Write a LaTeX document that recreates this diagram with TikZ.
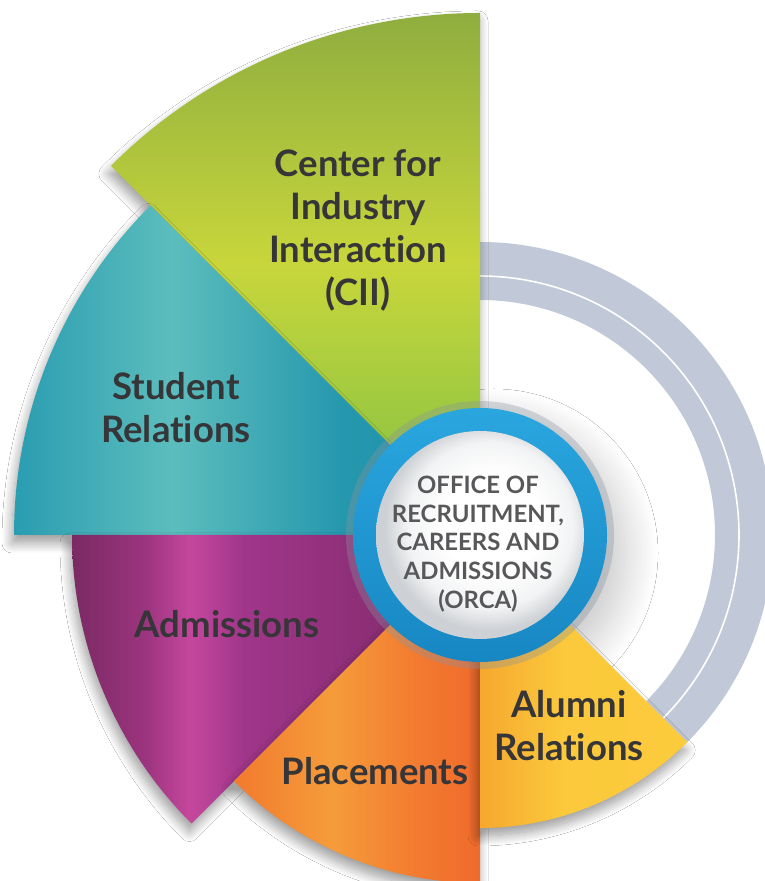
\documentclass[tikz,border=0pt]{standalone}
\usepackage{fontspec}
\setmainfont{Lato}[RawFeature={-liga;-clig;-dlig}]
\usetikzlibrary{shadows.blur,calc}
\definecolor{txtdark}{HTML}{363538}
\definecolor{txtgrey}{HTML}{58585A}
\definecolor{ringgrey}{HTML}{C1C9D8}
\definecolor{rimgrey}{HTML}{8A939E}
\definecolor{greenA}{HTML}{7CBF44}
\definecolor{greenB}{HTML}{C8D63B}
\definecolor{greenC}{HTML}{8FAE3F}
\definecolor{tealA}{HTML}{2A9DB1}
\definecolor{tealB}{HTML}{5CBDBD}
\definecolor{tealC}{HTML}{2698AE}
\definecolor{tealD}{HTML}{1B8DA8}
\definecolor{purA}{HTML}{7A2A63}
\definecolor{purB}{HTML}{9C347F}
\definecolor{purC}{HTML}{C5479D}
\definecolor{purD}{HTML}{A0368A}
\definecolor{purE}{HTML}{8E2F78}
\definecolor{oraA}{HTML}{F27A2E}
\definecolor{oraB}{HTML}{F59C3A}
\definecolor{oraC}{HTML}{F37B30}
\definecolor{oraD}{HTML}{EF6A2B}
\definecolor{yelA}{HTML}{F6A82F}
\definecolor{yelB}{HTML}{FBC93B}
\definecolor{yelC}{HTML}{FCCB3C}
\definecolor{blueA}{HTML}{2AA6DF}
\definecolor{blueB}{HTML}{1787C3}
\definecolor{discA}{HTML}{FFFFFF}
\definecolor{discB}{HTML}{F2F3F4}
\definecolor{discC}{HTML}{CDD0D4}
\pgfdeclareverticalshading{greensh}{100bp}{color(0bp)=(greenA); color(25bp)=(greenA); color(51bp)=(greenB); color(75bp)=(greenC); color(100bp)=(greenC)}
\pgfdeclarehorizontalshading{tealsh}{100bp}{color(0bp)=(tealA); color(25bp)=(tealA); color(42bp)=(tealB); color(60bp)=(tealC); color(75bp)=(tealD); color(100bp)=(tealD)}
\pgfdeclarehorizontalshading{pursh}{100bp}{color(0bp)=(purA); color(25bp)=(purA); color(34bp)=(purB); color(39.5bp)=(purC); color(46bp)=(purD); color(60bp)=(purE); color(75bp)=(purA); color(100bp)=(purA)}
\pgfdeclarehorizontalshading{orash}{100bp}{color(0bp)=(oraA); color(25bp)=(oraA); color(45bp)=(oraB); color(62bp)=(oraC); color(75bp)=(oraD); color(100bp)=(oraD)}
\pgfdeclarehorizontalshading{yelsh}{100bp}{color(0bp)=(yelA); color(25bp)=(yelA); color(45bp)=(yelB); color(75bp)=(yelC); color(100bp)=(yelC)}
\pgfdeclareradialshading{discsh}{\pgfpoint{4bp}{4bp}}{color(0bp)=(discA); color(12bp)=(discA); color(20bp)=(discB); color(25bp)=(discC); color(50bp)=(discC)}
\tikzset{
  sectshadow/.style={blur shadow={shadow xshift=-2pt, shadow yshift=-8pt, shadow blur radius=10pt, shadow blur steps=14, shadow opacity=40}},
  lbl/.style={font={\fontsize{36.5}{43}\selectfont\bfseries}, text=txtdark, align=center, inner sep=0pt},
  ctr/.style={font={\fontsize{23.9}{28.7}\selectfont\bfseries}, text=txtgrey, align=center, inner sep=0pt}
}
\begin{document}
\begin{tikzpicture}[x=1pt,y=1pt]
\useasboundingbox (0,0) rectangle (765,881);
\clip (0,0) rectangle (765,881);
\fill[white] (0,0) rectangle (765,881);
\coordinate (C) at (480,346);
% grey ring region
\fill[ringgrey] ($(C)+(-45:293)$) arc[start angle=-45,end angle=90,radius=293]
  -- ($(C)+(90:235)$) arc[start angle=90,end angle=-45,radius=235] -- cycle;
\draw[white, line width=1.6pt] ($(C)+(-45:259)$) arc[start angle=-45,end angle=90,radius=259];
% soft shadow of the hub on the white field
\path[blur shadow={shadow xshift=14pt, shadow yshift=-18pt, shadow blur radius=30pt, shadow blur steps=20, shadow opacity=20}] (C) circle[radius=134];
% sectors
\shade[sectshadow, shading=greensh] (C) -- ($(C)+(90:522)$) arc[start angle=90,end angle=135,radius=522] -- cycle;
\shade[sectshadow, shading=tealsh] (C) -- ($(C)+(135:466)$) arc[start angle=135,end angle=180,radius=466] -- cycle;
\shade[sectshadow, shading=pursh] (C) -- ($(C)+(180:408)$) arc[start angle=180,end angle=225,radius=408] -- cycle;
\shade[sectshadow, shading=orash] (C) -- ($(C)+(225:348)$) arc[start angle=225,end angle=270,radius=348] -- cycle;
\shade[sectshadow, shading=yelsh] (C) -- ($(C)+(270:293)$) arc[start angle=270,end angle=315,radius=293] -- cycle;
% central hub
\fill[rimgrey, opacity=0.35] (C) circle[radius=134];
\shade[top color=blueA, bottom color=blueB] (C) circle[radius=127];
\shade[shading=discsh] (C) circle[radius=104];
% labels
\node[lbl] (cii) at (358,651) {Center for\\Industry\\Interaction\\(CII)};
\node[lbl] (stud) at (176,473) {Student\\Relations};
\node[lbl] (adm) at (227,257) {Admissions};
\node[lbl] (plc) at (375,110) {Placements};
\node[lbl] (alm) at (569,155) {Alumni\\Relations};
\node[ctr] (orca) at (478,337) {OFFICE OF\\RECRUITMENT,\\CAREERS AND\\ADMISSIONS\\(ORCA)};
\end{tikzpicture}
\end{document}
